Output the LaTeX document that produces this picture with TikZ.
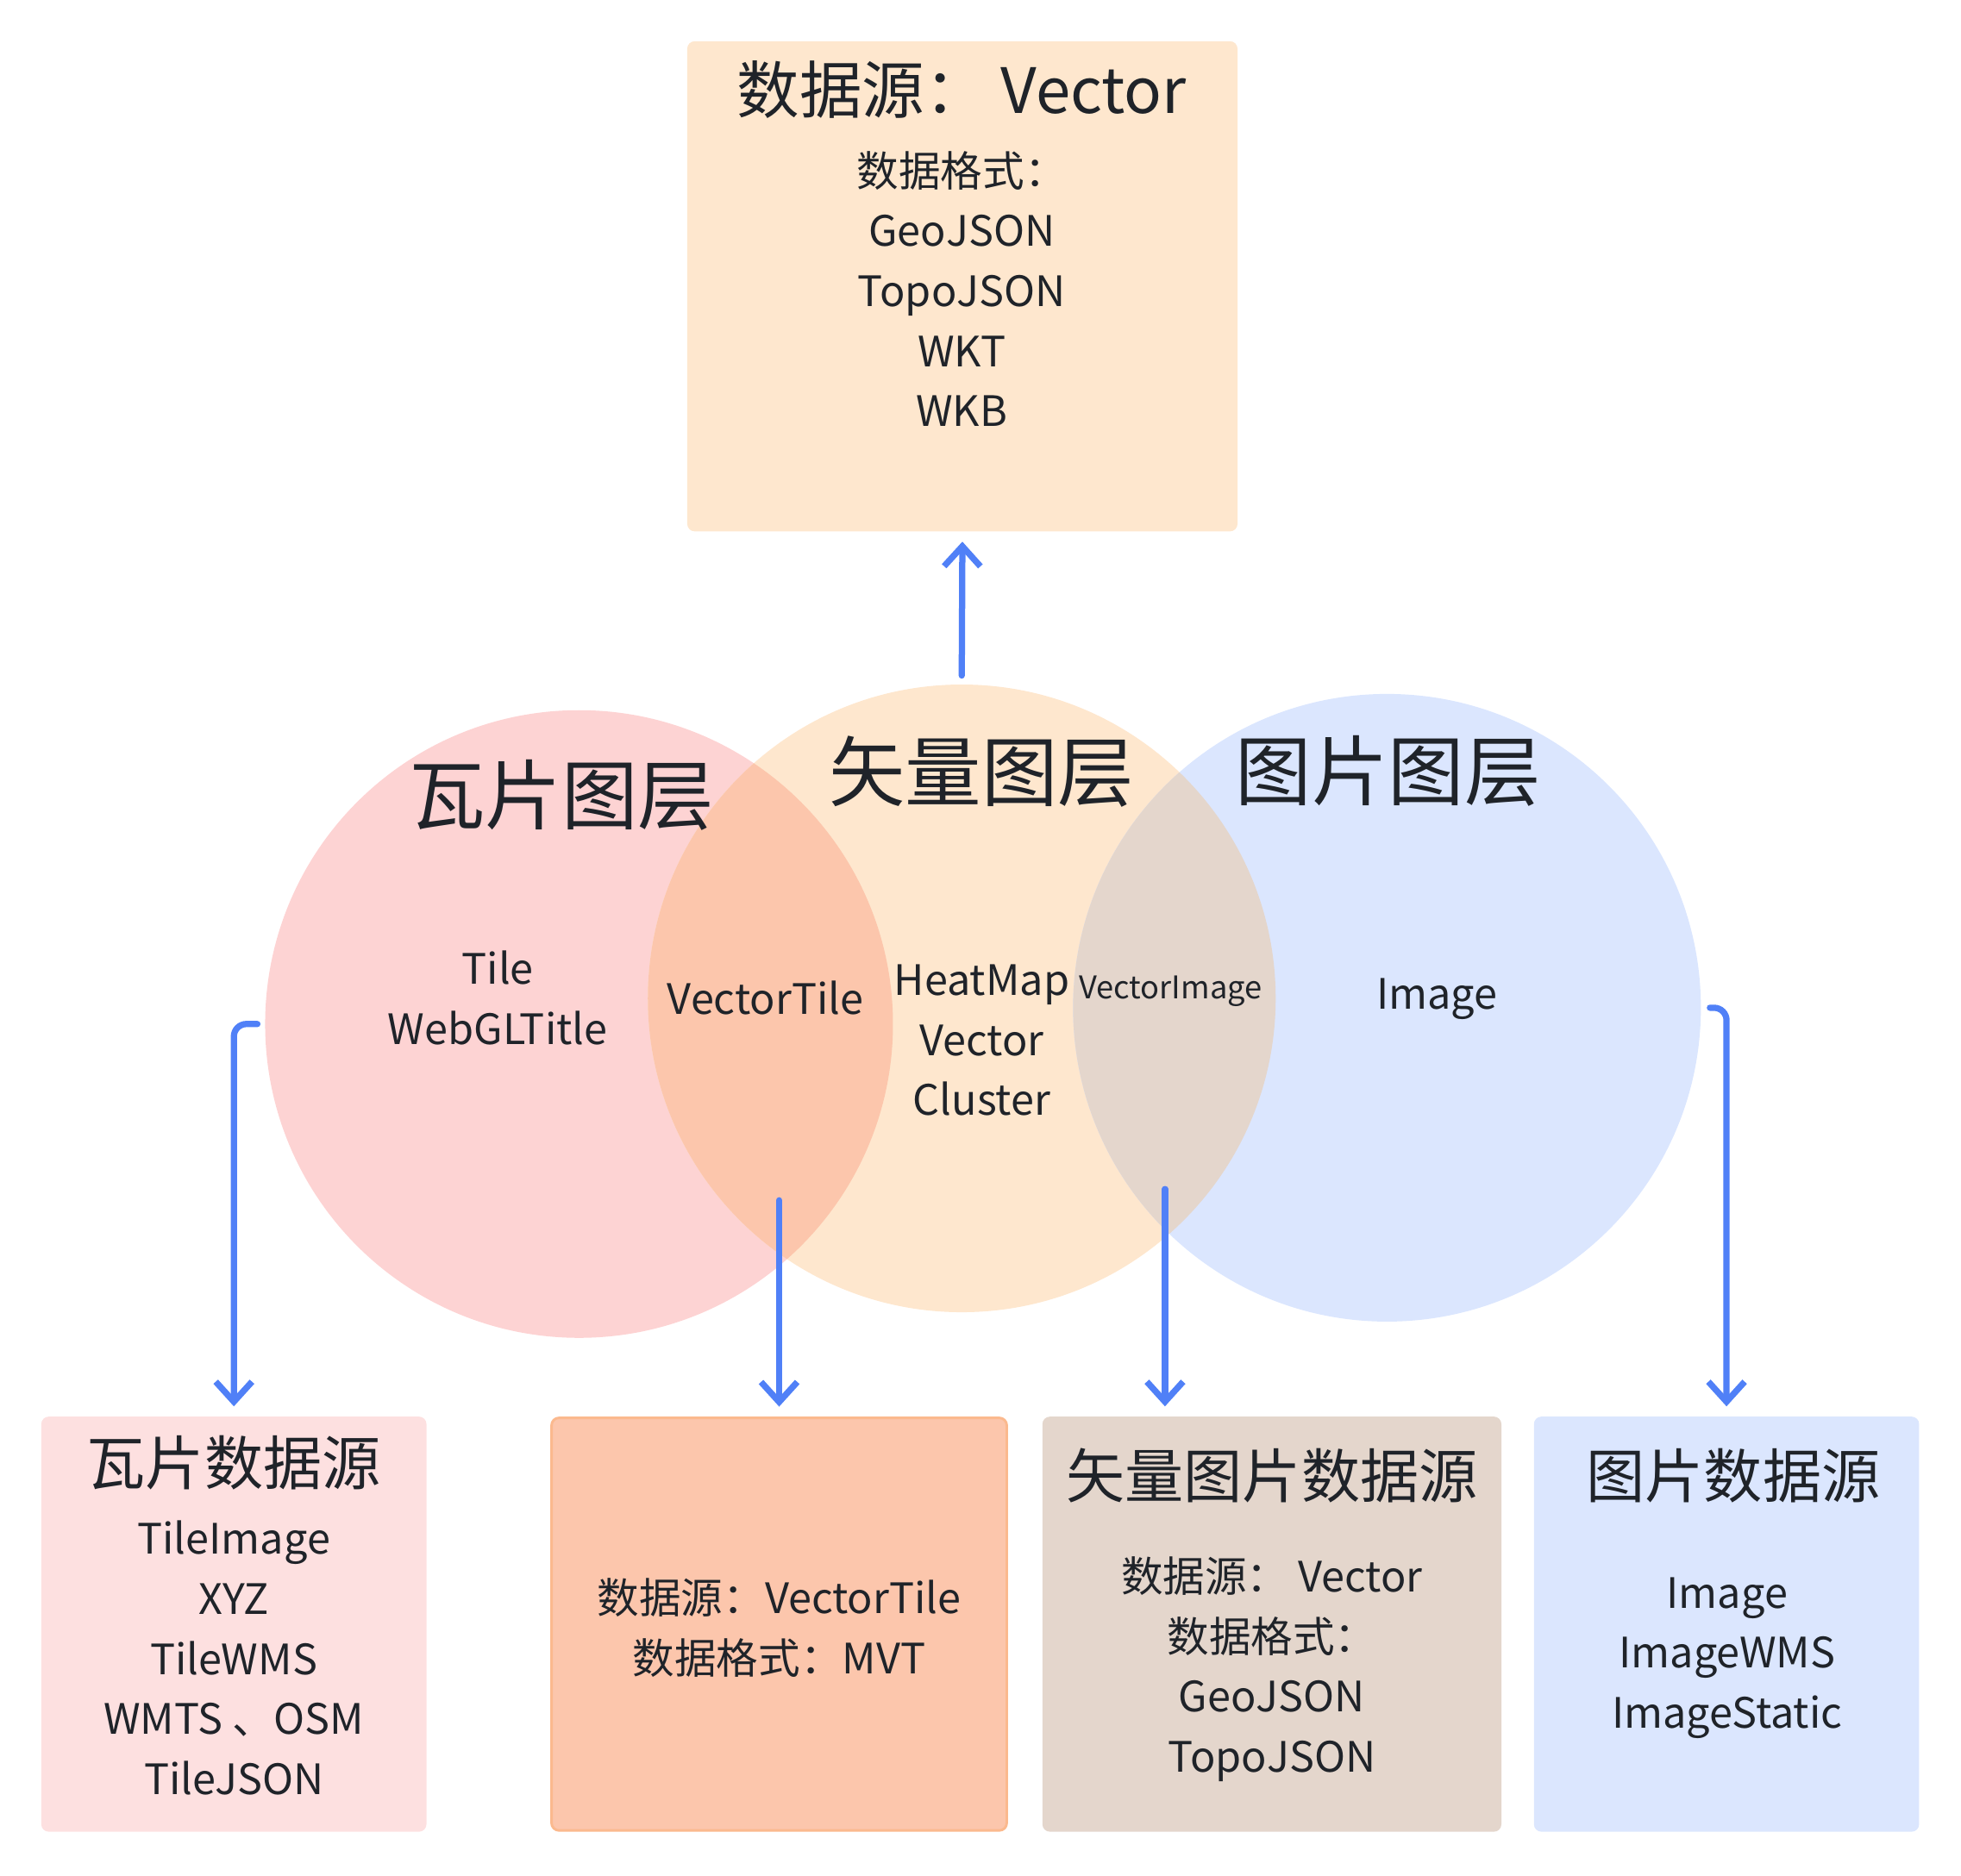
\documentclass[tikz,border=0pt]{standalone}
\usepackage{fontspec}
\setmainfont{Noto Sans CJK SC}
\usetikzlibrary{arrows.meta,positioning,calc}
\definecolor{ink}{HTML}{1F2329}
\definecolor{arrowblue}{HTML}{5080F7}
\definecolor{tilepink}{HTML}{FDD3D3}
\definecolor{vecyellow}{HTML}{FEE7CE}
\definecolor{imgblue}{HTML}{DBE6FE}
\definecolor{lensorange}{HTML}{FCC6AC}
\definecolor{lensbrown}{HTML}{E4D6CC}
\definecolor{boxpink}{HTML}{FDE0E0}
\definecolor{boxedge}{HTML}{FBB98E}
\tikzset{
  layer/.style={circle, minimum size=502pt, inner sep=0pt},
  srcbox/.style={rectangle, rounded corners=6pt, inner sep=0pt},
  layertitle/.style={font=\fontsize{61}{72}\selectfont, text=ink},
  boxtitle/.style={font=\fontsize{47}{56}\selectfont, text=ink},
  item/.style={font=\fontsize{33.5}{48}\selectfont, text=ink, align=center},
  link/.style={arrowblue, line width=5pt, line cap=round, line join=round,
    -{Straight Barb[length=16pt,width=29pt]}},
}

\begin{document}
\begin{tikzpicture}[x=1pt,y=-1pt]
  \useasboundingbox (0,0) rectangle (1568,1500.4);
  \def\R{251pt}
  % layers
  \node[layer, fill=tilepink] (tile) at (463,819) {};
  \node[layer, fill=vecyellow] (vec) at (769,798.5) {};
  \node[layer, fill=imgblue] (img) at (1109,806) {};
  \begin{scope}
    \clip (tile.center) circle (\R);
    \fill[lensorange] (vec.center) circle (\R);
  \end{scope}
  \begin{scope}
    \clip (img.center) circle (\R);
    \fill[lensbrown] (vec.center) circle (\R);
  \end{scope}
  \node[layertitle] (tile-title) at (449,636) {瓦片图层};
  \node[layertitle] (vec-title) at (785,617) {矢量图层};
  \node[layertitle] (img-title) at (1110,617) {图片图层};
  \node[item] (tile-list) at (398,798) {Tile\\WebGLTitle};
  \node[item] (vt-list) at (612,798) {VectorTile};
  \node[item] (vec-list) at (785,832) {HeatMap\\Vector\\Cluster};
  \node[item, font=\fontsize{25}{30}\selectfont] (vi-list) at (936,793) {VectorImage};
  \node[item] (img-list) at (1149,799) {Image};

  % sources
  \node[srcbox, fill=vecyellow, minimum width=440pt, minimum height=392pt] (vecsrc) at (769.5,229) {};
  \node[font=\fontsize{50}{60}\selectfont, text=ink] (vecsrc-title) at (769,72) {数据源：\ Vector};
  \node[item] (vecsrc-list) at (769,231) {数据格式：\\GeoJSON\\TopoJSON\\WKT\\WKB};

  \node[srcbox, fill=boxpink, minimum width=308pt, minimum height=332pt] (tilesrc) at (187,1299) {};
  \node[boxtitle] (tilesrc-title) at (187,1170) {瓦片数据源};
  \node[item] (tilesrc-list) at (187,1326) {TileImage\\XYZ\\TileWMS\\WMTS 、OSM\\TileJSON};

  \node[srcbox, fill=lensorange, draw=boxedge, line width=2pt, minimum width=364pt, minimum height=330pt] (vtsrc) at (623,1299) {};
  \node[item] (vtsrc-list) at (623,1302) {数据源：VectorTile\\数据格式：MVT};

  \node[srcbox, fill=lensbrown, minimum width=367pt, minimum height=332pt] (vissrc) at (1017,1299) {};
  \node[boxtitle] (vissrc-title) at (1017,1180) {矢量图片数据源};
  \node[item] (vissrc-list) at (1017,1335) {数据源：\ Vector\\数据格式：\\GeoJSON\\TopoJSON};

  \node[srcbox, fill=imgblue, minimum width=308pt, minimum height=332pt] (imgsrc) at (1380.5,1299) {};
  \node[boxtitle] (imgsrc-title) at (1386,1180) {图片数据源};
  \node[item] (imgsrc-list) at (1381,1326) {Image\\ImageWMS\\ImageStatic};

  % links
  \coordinate (vt-from) at (623,960);
  \coordinate (vi-from) at (931.5,951);
  \coordinate (vi-to) at (vi-from |- vissrc.north);
  \draw[link] ([yshift=7pt]vec.north) -- ([yshift=-8pt]vecsrc.south);
  \draw[link, rounded corners=10pt] ([xshift=-6pt]tile.west) -| ([yshift=8pt]tilesrc.north);
  \draw[link] (vt-from) -- ([yshift=8pt]vtsrc.north);
  \draw[link] (vi-from) -- ([yshift=8pt]vi-to);
  \draw[link, rounded corners=10pt] ([xshift=7pt]img.east) -| ([yshift=8pt]imgsrc.north);
\end{tikzpicture}
\end{document}
